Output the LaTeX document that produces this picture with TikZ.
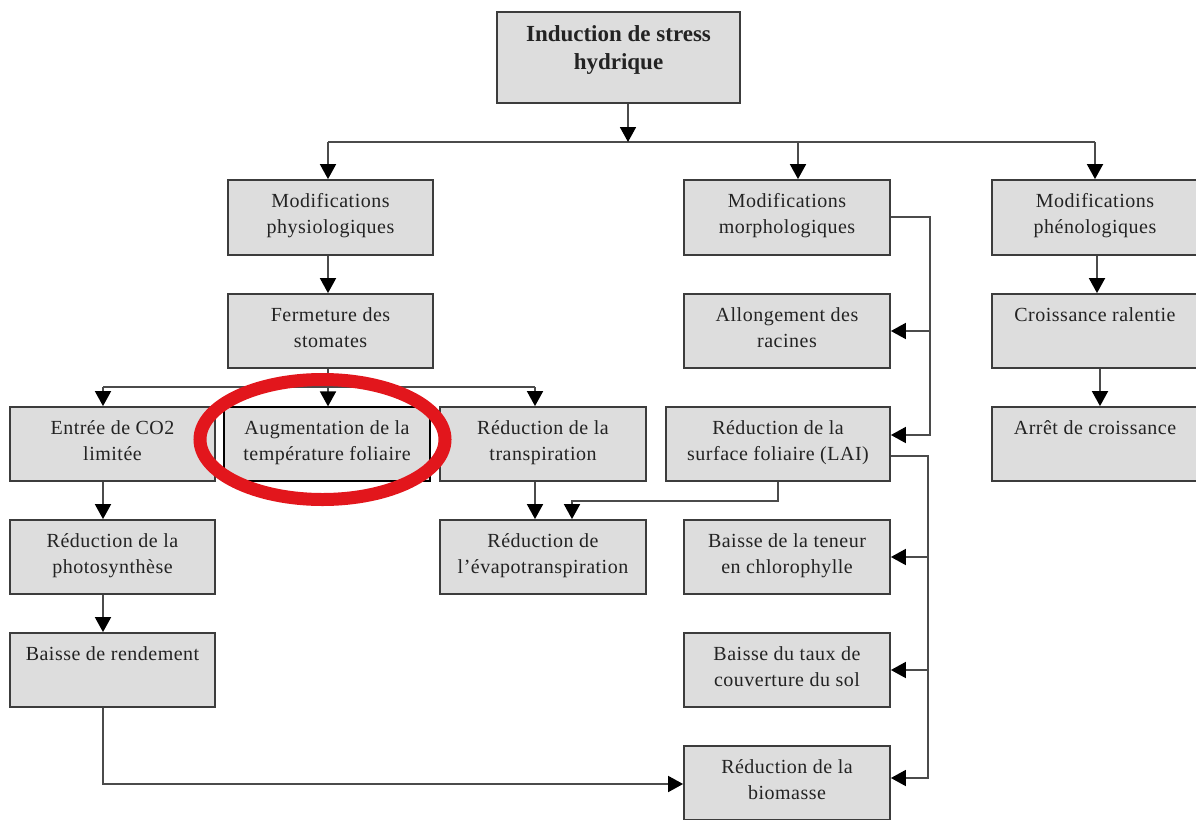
\documentclass[tikz,border=0pt]{standalone}
\usepackage{fontspec}
\setmainfont{Liberation Serif}
\newfontfamily\boxfont[LetterSpace=2.5]{Liberation Serif}
\usetikzlibrary{arrows.meta,calc}
\definecolor{boxc}{RGB}{221,221,221}
\definecolor{bordc}{RGB}{60,60,60}
\definecolor{lnc}{RGB}{75,75,75}
\definecolor{txtc}{RGB}{35,35,35}
\definecolor{ellc}{RGB}{226,22,28}
\newcommand{\bxt}[3]{\parbox[c][#2][t]{#1}{\centering\boxfont\fontsize{20}{25.6}\selectfont\rule{0pt}{27.5pt}#3\par}}
\newcommand{\bxtb}[3]{\parbox[c][#2][t]{#1}{\centering\fontsize{23}{28}\selectfont\bfseries\rule{0pt}{29.7pt}#3\par}}
\begin{document}
\begin{tikzpicture}[x=1pt,y=-1pt,
  bx/.style={draw=bordc,line width=1.8pt,fill=boxc,inner sep=0pt,rectangle,text=txtc},
  ln/.style={draw=lnc,line width=1.8pt},
  arr/.style={-{Triangle[width=16pt,length=15pt]},arrows={[color=black]}},
  ell/.style={draw=ellc,line width=13pt}]
\fill[white] (0,0) rectangle (1196,819);
\clip (0,0) rectangle (1196,819);
% boxes
\node[bx] (top) at (618.5,57.5) {\bxtb{243pt}{91pt}{Induction de stress\\hydrique}};
\node[bx] (physio) at (330.5,217.5) {\bxt{205pt}{75pt}{Modifications\\physiologiques}};
\node[bx] (morpho) at (787,217.5) {\bxt{206pt}{75pt}{Modifications\\morphologiques}};
\node[bx] (pheno) at (1095,217.5) {\bxt{206pt}{75pt}{Modifications\\phénologiques}};
\node[bx] (ferm) at (330.5,331) {\bxt{205pt}{74pt}{Fermeture des\\stomates}};
\node[bx] (allong) at (787,331) {\bxt{206pt}{74pt}{Allongement des\\racines}};
\node[bx] (croiss) at (1095,331) {\bxt{206pt}{74pt}{Croissance ralentie}};
\node[bx] (co2) at (112.5,444) {\bxt{205pt}{74pt}{Entrée de CO2\\limitée}};
\node[bx,line width=1.2pt,draw=black] (augm) at (327,444) {\bxt{206pt}{74pt}{Augmentation de la\\température foliaire}};
\node[bx] (transp) at (543,444) {\bxt{206pt}{74pt}{Réduction de la\\transpiration}};
\node[bx] (lai) at (778,444) {\bxt{224pt}{74pt}{Réduction de la\\surface foliaire (LAI)}};
\node[bx] (arret) at (1095,444) {\bxt{206pt}{74pt}{Arrêt de croissance}};
\node[bx] (photo) at (112.5,557) {\bxt{205pt}{74pt}{Réduction de la\\photosynthèse}};
\node[bx] (evapo) at (543,557) {\bxt{206pt}{74pt}{Réduction de\\l’évapotranspiration}};
\node[bx] (teneur) at (787,557) {\bxt{206pt}{74pt}{Baisse de la teneur\\en chlorophylle}};
\node[bx] (rend) at (112.5,670) {\bxt{205pt}{74pt}{Baisse de rendement}};
\node[bx] (taux) at (787,670) {\bxt{206pt}{74pt}{Baisse du taux de\\couverture du sol}};
\node[bx] (biom) at (787,783) {\bxt{206pt}{74pt}{Réduction de la\\biomasse}};
% junction coordinates
\coordinate (j1) at (628,142);
\coordinate (b1l) at (328,142);
\coordinate (j2) at (798,142);
\coordinate (b1r) at (1095,142);
\coordinate (j3) at (328,387);
\coordinate (b2l) at (103,387);
\coordinate (b2r) at (535,387);
\coordinate (j4) at (103,784);
\coordinate (j5) at (778,501);
\coordinate (j6) at (572,501);
\coordinate (j7) at (930,217);
\coordinate (j8) at (930,435);
\coordinate (j9) at (930,331);
\coordinate (k1) at (928,456);
\coordinate (k2) at (928,557);
\coordinate (k3) at (928,670);
\coordinate (k4) at (928,778);
\coordinate (m1) at (1097,0);
\coordinate (m2) at (1100,0);
% connectors
\draw[ln] (b1l) -- (b1r);
\draw[ln,arr] (top.south -| j1) -- (j1);
\draw[ln,arr] (b1l) -- (b1l |- physio.north);
\draw[ln,arr] (j2) -- (j2 |- morpho.north);
\draw[ln,arr] (b1r) -- (b1r |- pheno.north);
\draw[ln,arr] (physio.south -| b1l) -- (ferm.north -| b1l);
\draw[ln] (ferm.south -| j3) -- (j3);
\draw[ln] (b2l) -- (b2r);
\draw[ln,arr] (b2l) -- (b2l |- co2.north);
\draw[ln,arr] (j3) -- (j3 |- augm.north);
\draw[ln,arr] (b2r) -- (b2r |- transp.north);
\draw[ln,arr] (co2.south -| b2l) -- (photo.north -| b2l);
\draw[ln,arr] (photo.south -| b2l) -- (rend.north -| b2l);
\draw[ln,arr] (rend.south -| j4) -- (j4) -- (j4 -| biom.west);
\draw[ln,arr] (transp.south -| b2r) -- (evapo.north -| b2r);
\draw[ln,arr] (lai.south -| j5) -- (j5) -- (j6) -- (j6 |- evapo.north);
\draw[ln,arr] (morpho.east |- j7) -- (j7) -- (j8) -- (j8 -| lai.east);
\draw[ln,arr] (j9) -- (j9 -| allong.east);
\draw[ln,arr] (lai.east |- k1) -- (k1) -- (k4) -- (k4 -| biom.east);
\draw[ln,arr] (k2) -- (k2 -| teneur.east);
\draw[ln,arr] (k3) -- (k3 -| taux.east);
\draw[ln,arr] (pheno.south -| m1) -- (croiss.north -| m1);
\draw[ln,arr] (croiss.south -| m2) -- (arret.north -| m2);
% highlight
\draw[ell] (322.5,439.5) ellipse [x radius=122.5pt, y radius=60pt];
\end{tikzpicture}
\end{document}
